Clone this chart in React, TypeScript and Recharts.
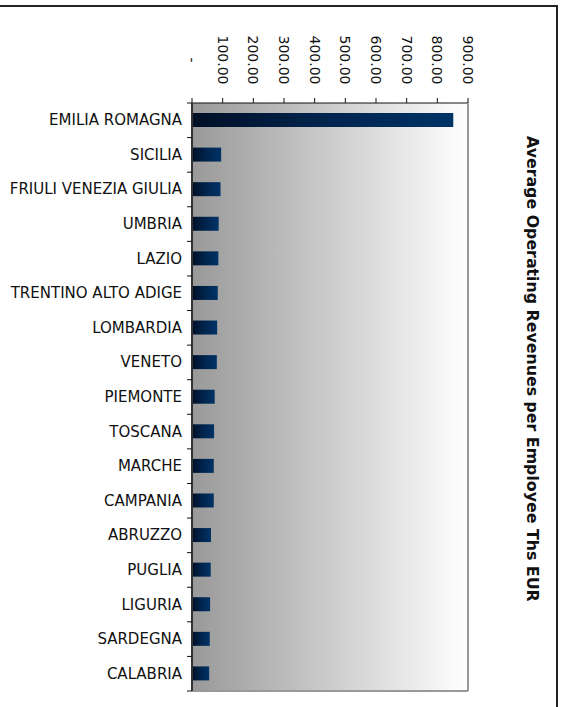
import { BarChart, Bar, XAxis, YAxis, CartesianGrid } from 'recharts'

// Regions, ranked by value
const regions = [
  'EMILIA ROMAGNA',
  'SICILIA',
  'FRIULI VENEZIA GIULIA',
  'UMBRIA',
  'LAZIO',
  'TRENTINO ALTO ADIGE',
  'LOMBARDIA',
  'VENETO',
  'PIEMONTE',
  'TOSCANA',
  'MARCHE',
  'CAMPANIA',
  'ABRUZZO',
  'PUGLIA',
  'LIGURIA',
  'SARDEGNA',
  'CALABRIA',
]

// Ths EUR per employee
const revenues = [852, 95, 93, 87, 86, 84, 82, 81, 74, 72, 71, 71, 62, 61, 59, 58, 56]

const valueTicks = [0, 100, 200, 300, 400, 500, 600, 700, 800, 900]

const title = 'Average Operating Revenues per Employee Ths EUR'

const data = regions.map((name, i) => ({ name, value: revenues[i] }))

const font = '"DejaVu Sans", Verdana, sans-serif'

const W = 565
const H = 707
const margin = { top: 0, right: 96, bottom: 15, left: 0 }
const topAxisH = 103
const catAxisW = 192
const plotH = H - margin.top - margin.bottom - topAxisH - 1
const band = plotH / regions.length

const fmtValue = (v: number) => (v === 0 ? '-' : v.toFixed(2))

const TopTick = ({ x, y, payload }: any) => (
  <g transform={`translate(${x},${y - 36}) rotate(90)`}>
    <text textAnchor="middle" dominantBaseline="central" fontSize={14} fill="#111" fontFamily={font}>
      {fmtValue(payload.value)}
    </text>
  </g>
)

// label plus Excel-style tick marks between categories
const CatTick = ({ x, y, payload, index }: any) => {
  const axisX = x + 10
  return (
    <g>
      <text x={x} y={y} textAnchor="end" dominantBaseline="central" fontSize={15} fill="#111" fontFamily={font}>
        {payload.value}
      </text>
      {index === 0 && <line x1={axisX - 5} x2={axisX} y1={y - band / 2} y2={y - band / 2} stroke="#111" />}
      <line x1={axisX - 5} x2={axisX} y1={y + band / 2} y2={y + band / 2} stroke="#111" />
    </g>
  )
}

const App = () => {
  return (
    <div style={{ position: 'absolute', left: 0, top: 0, width: W, height: H, background: '#fff', overflow: 'hidden' }}>
      <div
        style={{
          position: 'absolute',
          left: -4,
          top: 5,
          width: 562,
          height: 720,
          boxSizing: 'border-box',
          borderTop: '2px solid #222',
          borderRight: '2px solid #222',
        }}
      />
      <div style={{ position: 'absolute', left: 0, top: 0 }}>
        <BarChart
          width={W}
          height={H}
          data={data}
          layout="vertical"
          margin={margin}
          barCategoryGap="60%"
        >
          <defs>
            <linearGradient id="plotBg" x1="0" y1="0" x2="1" y2="0">
              <stop offset="0%" stopColor="#999999" />
              <stop offset="100%" stopColor="#ffffff" />
            </linearGradient>
            <linearGradient id="barFill" x1="0" y1="0" x2="1" y2="0">
              <stop offset="0%" stopColor="#000f26" />
              <stop offset="50%" stopColor="#00244d" />
              <stop offset="100%" stopColor="#003366" />
            </linearGradient>
          </defs>
          <CartesianGrid horizontal={false} vertical={false} fill="url(#plotBg)" />
          <XAxis
            type="number"
            orientation="top"
            domain={[0, 900]}
            ticks={valueTicks}
            height={topAxisH}
            tickSize={5}
            tick={<TopTick />}
            stroke="#111"
            interval={0}
          />
          <XAxis
            xAxisId="edge"
            type="number"
            orientation="bottom"
            domain={[0, 900]}
            height={1}
            tick={false}
            tickLine={false}
            axisLine={{ stroke: '#999', strokeWidth: 2 }}
          />
          <YAxis
            type="category"
            dataKey="name"
            width={catAxisW}
            tickLine={false}
            tickMargin={4}
            axisLine={{ stroke: '#333', strokeWidth: 2 }}
            tick={<CatTick />}
            interval={0}
          />
          <YAxis
            yAxisId="edge"
            type="category"
            dataKey="name"
            orientation="right"
            width={1}
            tick={false}
            tickLine={false}
            axisLine={{ stroke: '#999', strokeWidth: 2 }}
          />
          <Bar dataKey="value" fill="url(#barFill)" barSize={14} isAnimationActive={false} />
        </BarChart>
      </div>
      <div
        style={{
          position: 'absolute',
          left: 524,
          top: 136,
          writingMode: 'vertical-rl',
          lineHeight: '16px',
          fontFamily: font,
          fontWeight: 'bold',
          fontSize: 15.8,
          color: '#111',
          whiteSpace: 'nowrap',
        }}
      >
        {title}
      </div>
    </div>
  )
}

export default App
